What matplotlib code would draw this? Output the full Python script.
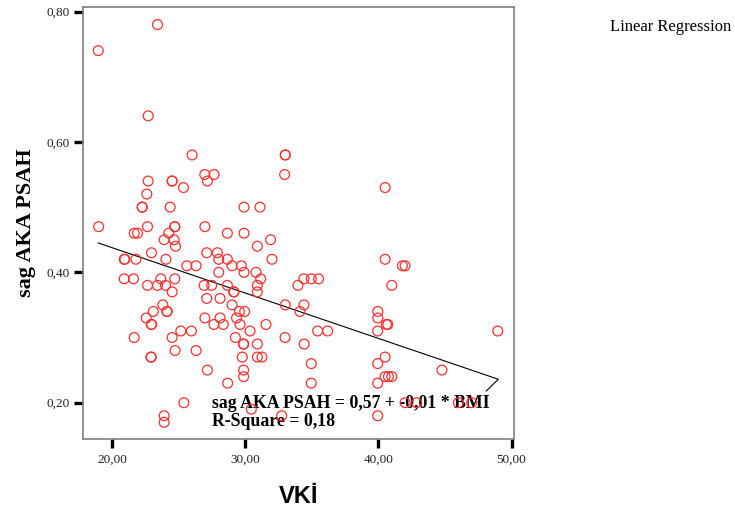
import matplotlib
matplotlib.use("Agg")
import matplotlib.pyplot as plt
import numpy as np

# BMI (VKİ) values
vki = [
    23.4, 18.95, 22.7, 26.0, 33.0, 33.0,
    26.95, 27.65, 32.95,
    22.7, 24.5, 24.5, 27.15,
    25.35, 40.5,
    22.6,
    22.25, 22.25, 24.35, 29.9, 31.1,
    18.98, 22.65, 24.7, 24.7, 26.96,
    21.65, 21.9, 24.25, 28.65, 29.9,
    23.9, 24.65, 31.9,
    24.75, 30.9,
    22.95, 27.1, 27.9,
    20.9, 20.95, 21.78, 24.03, 28.0, 28.65, 32.0, 40.5,
    25.6, 26.3, 29.0, 29.7, 41.8, 42.0,
    28.0, 29.9, 30.8,
    20.9, 21.6, 23.65, 24.7, 31.15, 34.4, 34.95, 35.5,
    22.65, 23.4, 24.0, 26.9, 27.47, 28.65, 30.9, 33.95, 41.0,
    24.5, 29.12, 29.15, 30.9,
    27.1, 28.1,
    23.8, 29.0, 33.0, 34.4,
    23.08, 24.1, 24.13, 29.55, 29.95, 34.1, 39.95,
    22.55, 26.96, 28.1, 29.34, 39.95,
    22.93, 22.96, 27.64, 28.34, 29.6, 31.55, 40.6, 40.7,
    25.15, 25.95, 30.35, 35.43, 36.18, 39.94, 48.96,
    21.65, 24.5, 29.25, 32.98,
    29.85, 29.88, 30.9, 34.42,
    24.72, 26.3,
    22.9, 22.93, 29.77, 30.9, 31.25, 40.5,
    34.95, 39.94,
    27.15, 29.87, 44.77,
    29.87, 40.5, 40.75, 41.0,
    28.67, 34.95, 39.94,
    25.38, 42.0, 42.87, 46.0, 47.0,
    30.45,
    23.9, 32.73, 39.94,
    23.9,
]

# sag AKA PSAH values
psah = [
    0.78, 0.74, 0.64, 0.58, 0.58, 0.58,
    0.55, 0.55, 0.55,
    0.54, 0.54, 0.54, 0.54,
    0.53, 0.53,
    0.52,
    0.50, 0.50, 0.50, 0.50, 0.50,
    0.47, 0.47, 0.47, 0.47, 0.47,
    0.46, 0.46, 0.46, 0.46, 0.46,
    0.45, 0.45, 0.45,
    0.44, 0.44,
    0.43, 0.43, 0.43,
    0.42, 0.42, 0.42, 0.42, 0.42, 0.42, 0.42, 0.42,
    0.41, 0.41, 0.41, 0.41, 0.41, 0.41,
    0.40, 0.40, 0.40,
    0.39, 0.39, 0.39, 0.39, 0.39, 0.39, 0.39, 0.39,
    0.38, 0.38, 0.38, 0.38, 0.38, 0.38, 0.38, 0.38, 0.38,
    0.37, 0.37, 0.37, 0.37,
    0.36, 0.36,
    0.35, 0.35, 0.35, 0.35,
    0.34, 0.34, 0.34, 0.34, 0.34, 0.34, 0.34,
    0.33, 0.33, 0.33, 0.33, 0.33,
    0.32, 0.32, 0.32, 0.32, 0.32, 0.32, 0.32, 0.32,
    0.31, 0.31, 0.31, 0.31, 0.31, 0.31, 0.31,
    0.30, 0.30, 0.30, 0.30,
    0.29, 0.29, 0.29, 0.29,
    0.28, 0.28,
    0.27, 0.27, 0.27, 0.27, 0.27, 0.27,
    0.26, 0.26,
    0.25, 0.25, 0.25,
    0.24, 0.24, 0.24, 0.24,
    0.23, 0.23, 0.23,
    0.20, 0.20, 0.20, 0.20, 0.20,
    0.19,
    0.18, 0.18, 0.18,
    0.17,
]

# Fit line as drawn by the program (incl. the small hook at its end)
fit_x = [18.95, 49.0, 48.1]
fit_y = [0.445, 0.236, 0.218]

x_ticks = [20, 30, 40, 50]
x_tick_labels = ["20,00", "30,00", "40,00", "50,00"]
y_ticks = [0.2, 0.4, 0.6, 0.8]
y_tick_labels = ["0,20", "0,40", "0,60", "0,80"]

equation_text = "sag AKA PSAH = 0,57 + -0,01 * BMI"
rsq_text = "R-Square = 0,18"

fig = plt.figure(figsize=(7.35, 5.13), dpi=100)
ax = fig.add_axes([0.1125, 0.1442, 0.5868, 0.8416])

ax.scatter(vki, psah, s=50, facecolors="none", edgecolors="#ff3030",
           linewidths=0.9, zorder=4)
ax.plot(fit_x, fit_y, color="black", lw=0.8, zorder=3)

ax.set_xlim(17.78, 50.18)
ax.set_ylim(0.1443, 0.8065)

ax.set_xticks(x_ticks)
ax.set_xticklabels(x_tick_labels)
ax.set_yticks(y_ticks)
ax.set_yticklabels(y_tick_labels)

for lab in ax.get_xticklabels() + ax.get_yticklabels():
    lab.set_fontfamily("Liberation Serif")
    lab.set_fontsize(9.5)
    lab.set_color("#222222")

ax.tick_params(axis="both", direction="out", length=6.5, width=2.4,
               color="black")
ax.tick_params(axis="y", pad=2.5)
ax.tick_params(axis="x", pad=4)

for sp in ax.spines.values():
    sp.set_color("#808080")
    sp.set_linewidth(1.2)

ax.set_ylabel("sag AKA PSAH", fontfamily="Liberation Serif",
              fontweight="bold", fontsize=16, labelpad=8)
ax.set_xlabel("VKİ", fontfamily="Liberation Sans", fontweight="bold",
              fontsize=17, labelpad=14)

ax.text(0.300, 0.0834, equation_text, transform=ax.transAxes,
        fontfamily="Liberation Serif", fontweight="bold", fontsize=12.8,
        ha="left", va="center", zorder=2)
ax.text(0.300, 0.0417, rsq_text, transform=ax.transAxes,
        fontfamily="Liberation Serif", fontweight="bold", fontsize=12.8,
        ha="left", va="center", zorder=2)

fig.text(0.8299, 0.947, "Linear Regression", fontfamily="Liberation Serif",
         fontsize=12, ha="left", va="center")

fig.savefig("out.png", dpi=100)
